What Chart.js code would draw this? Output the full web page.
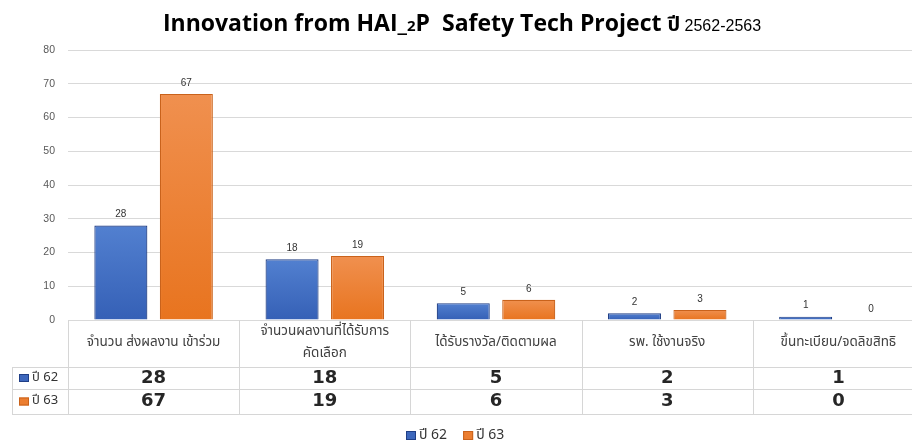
<!DOCTYPE html>
<html><head><meta charset="utf-8">
<script src="https://cdn.jsdelivr.net/npm/chart.js@4/dist/chart.umd.min.js"></script>
<style>
html,body{margin:0;padding:0;background:#fff;overflow:hidden;width:912px;height:442px}
#wrap{width:926px;height:442px;position:relative}
</style>
</head><body><div id="wrap"><canvas id="c" width="926" height="442"></canvas></div>
<script>
const categories = [["จำนวน ส่งผลงาน เข้าร่วม"], ["จำนวนผลงานที่ได้รับการ", "คัดเลือก"], ["ได้รับรางวัล/ติดตามผล"], ["รพ. ใช้งานจริง"], ["ขึ้นทะเบียน/จดลิขสิทธิ"]];
const seriesNames = ["ปี 62", "ปี 63"];
const values62 = [28, 18, 5, 2, 1];
const values63 = [67, 19, 6, 3, 0];
const yMax = 80;
const yStep = 10;
const titleParts = ["Innovation from HAI_", "2", "P  Safety Tech Project ", "ปี", " 2562-2563"];

const THAI = "Tahoma, 'Noto Sans Thai', 'Noto Sans', 'DejaVu Sans', sans-serif";
const colors = [
  {top:'#5280D0', bot:'#3560B6', border:'#203F86', flat:'#3D67BC'},
  {top:'#F0904F', bot:'#E8741F', border:'#C9621B', flat:'#EC7E30'}
];

function barGrad(ctx, i){
  const ch = ctx.chart, a = ch.chartArea;
  const c = colors[i];
  if(!a || ctx.parsed === undefined) return c.flat;
  const y = ch.scales.y;
  const t = y.getPixelForValue(ctx.parsed.y), b = y.getPixelForValue(0);
  if (b - t < 2) return c.bot;
  const g = ch.ctx.createLinearGradient(0, t, 0, b);
  g.addColorStop(0, c.top); g.addColorStop(1, c.bot);
  return g;
}

const tablePlugin = {
  id: 'tablePlugin',
  afterDraw(chart){
    const ctx = chart.ctx, xs = chart.scales.x, ys = chart.scales.y, a = chart.chartArea;
    const n = categories.length;
    const cw = (a.right - a.left) / n;
    const bounds = [];
    for(let i=0;i<=n;i++) bounds.push(a.left + i*cw);
    const base = ys.getPixelForValue(0);
    const r1 = 367, r2 = 389, r3 = 414;
    ctx.save();
    // grid lines of the data table
    ctx.strokeStyle = '#d6d6d6'; ctx.lineWidth = 1;
    ctx.beginPath();
    bounds.forEach(bx => { const x = Math.round(bx)+0.5; ctx.moveTo(x, base); ctx.lineTo(x, r3); });
    ctx.moveTo(12.5, r1); ctx.lineTo(12.5, r3);
    [r1, r2, r3].forEach(ry => { ctx.moveTo(12, ry+0.5); ctx.lineTo(a.right, ry+0.5); });
    ctx.stroke();
    // header labels
    ctx.fillStyle = '#404040'; ctx.font = '13.5px ' + THAI;
    ctx.textAlign = 'center'; ctx.textBaseline = 'middle';
    categories.forEach((lab, i) => {
      const cx = xs.getPixelForValue(i);
      if(lab.length === 1) ctx.fillText(lab[0], cx, 343);
      else { ctx.fillText(lab[0], cx, 332); ctx.fillText(lab[1], cx, 354); }
    });
    // values
    const rowsY = [378, 401.5];
    ctx.font = 'bold 18px "DejaVu Sans", Verdana, sans-serif'; ctx.fillStyle = '#262626';
    [values62, values63].forEach((vals, r) => {
      vals.forEach((v, i) => ctx.fillText(String(v), xs.getPixelForValue(i), rowsY[r]));
    });
    // row labels
    ctx.textAlign = 'left';
    ctx.font = '13px ' + THAI;
    seriesNames.forEach((nm, r) => {
      const c = colors[r];
      const y = rowsY[r];
      ctx.fillStyle = c.flat; ctx.fillRect(19, y-4, 10, 8);
      ctx.strokeStyle = c.border; ctx.strokeRect(19.5, y-3.5, 9, 7);
      ctx.fillStyle = '#333'; ctx.fillText(nm, 32, y);
    });
    // data labels above bars
    ctx.textAlign = 'center'; ctx.textBaseline = 'middle';
    ctx.font = '10px "Liberation Sans", Arial, sans-serif'; ctx.fillStyle = '#333';
    chart.data.datasets.forEach((ds, di) => {
      const meta = chart.getDatasetMeta(di);
      meta.data.forEach((bar, i) => {
        ctx.fillText(String(ds.data[i]), bar.x, bar.y - 11);
      });
    });
    // legend
    let lx = 406; const ly = 435;
    ctx.textAlign = 'left';
    ctx.font = '14px ' + THAI;
    seriesNames.forEach((nm, r) => {
      const c = colors[r];
      ctx.fillStyle = c.flat; ctx.fillRect(lx, ly-4, 10, 9);
      ctx.strokeStyle = c.border; ctx.strokeRect(lx+0.5, ly-3.5, 9, 8);
      ctx.fillStyle = '#333'; ctx.fillText(nm, lx+13, ly+1);
      lx += 13 + ctx.measureText(nm).width + 16;
    });
    // title
    const fonts = [
      'bold 23px "Open Sans", sans-serif',
      'bold 15px "Open Sans", sans-serif',
      'bold 23px "Open Sans", sans-serif',
      'bold 20px ' + THAI,
      '16px "Liberation Sans", Arial, sans-serif'
    ];
    let total = 0; const ws = [];
    titleParts.forEach((t, i) => { ctx.font = fonts[i]; const w = ctx.measureText(t).width; ws.push(w); total += w; });
    let tx = 462 - total/2; const ty = 31;
    ctx.textBaseline = 'alphabetic'; ctx.fillStyle = '#000';
    titleParts.forEach((t, i) => { ctx.font = fonts[i]; ctx.fillText(t, tx, ty); tx += ws[i]; });
    ctx.restore();
  }
};

new Chart(document.getElementById('c'), {
  type: 'bar',
  data: {
    labels: categories,
    datasets: [
      {label: seriesNames[0], data: values62, backgroundColor: c => barGrad(c, 0), borderColor: colors[0].border, borderWidth: 1.2},
      {label: seriesNames[1], data: values63, backgroundColor: c => barGrad(c, 1), borderColor: colors[1].border, borderWidth: 1.2}
    ]
  },
  options: {
    responsive: false,
    animation: false,
    layout: {padding: {top: 50, right: 2, left: 0, bottom: 0}},
    datasets: {bar: {categoryPercentage: 0.765, barPercentage: 0.81}},
    plugins: {legend: {display: false}, title: {display: false}, tooltip: {enabled: false}},
    scales: {
      x: {
        grid: {display: false},
        border: {display: false},
        ticks: {display: false},
        afterFit: s => { s.height = 122; }
      },
      y: {
        min: 0, max: yMax,
        border: {display: false},
        grid: {color: '#d9d9d9', drawTicks: false, lineWidth: 1},
        ticks: {stepSize: yStep, padding: 13, color: '#595959', font: {size: 10.5, family: '"Liberation Sans", Arial, sans-serif'}},
        afterFit: s => { s.width = 68; }
      }
    }
  },
  plugins: [tablePlugin]
});
</script>
</body></html>
